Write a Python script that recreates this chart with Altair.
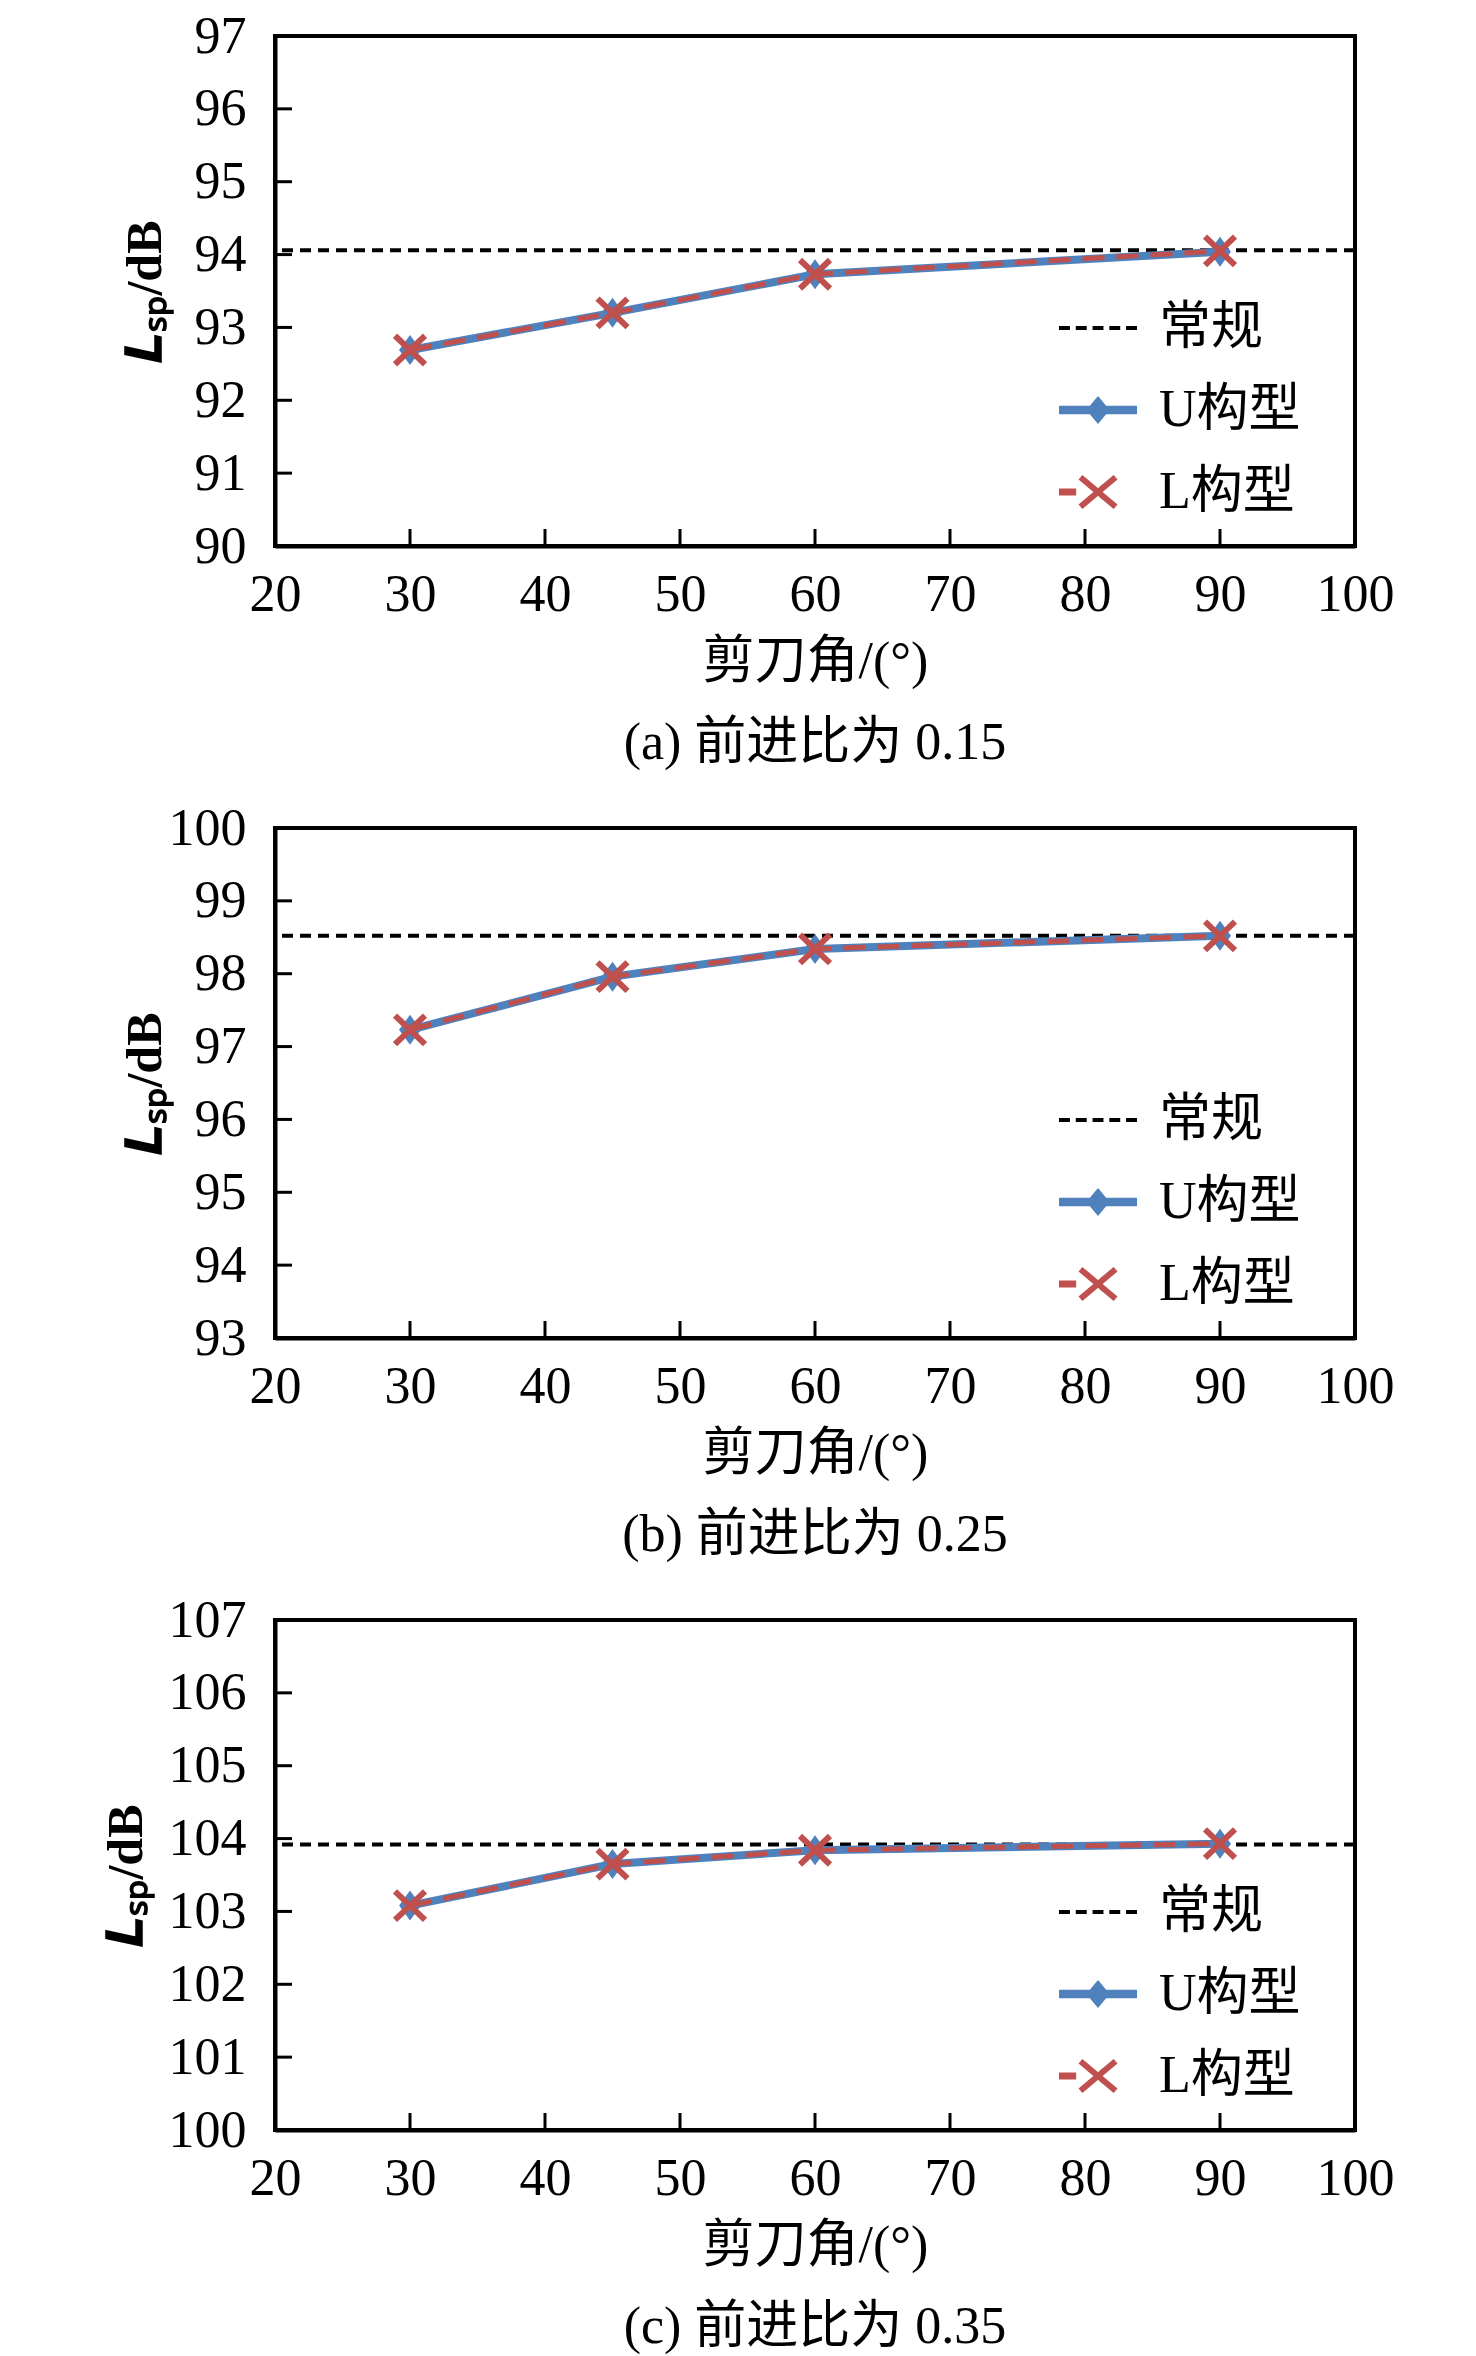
import altair as alt
import pandas as pd

# ---------------- data ----------------
angles = [30, 45, 60, 90]
captions = ["(a) 前进比为 0.15", "(b) 前进比为 0.25", "(c) 前进比为 0.35"]
u_vals = [
    [92.69, 93.20, 93.73, 94.04],
    [97.23, 97.96, 98.34, 98.52],
    [103.08, 103.65, 103.84, 103.93],
]
l_vals = [
    [92.69, 93.20, 93.73, 94.05],
    [97.23, 97.96, 98.34, 98.52],
    [103.08, 103.65, 103.84, 103.93],
]
ref_vals = [94.06, 98.52, 103.92]
y_domains = [[90, 97], [93, 100], [100, 107]]
y_ticks = [list(range(90, 98)), list(range(93, 101)), list(range(100, 108))]
x_ticks = [20, 30, 40, 50, 60, 70, 80, 90, 100]
legend_cats = ["常规", "U构型", "L构型"]

# ---------------- style ----------------
FONT = "Liberation Serif, Noto Sans CJK SC"
BLUE = "#4F81BD"
RED = "#C0504D"
W, H = 1080, 510
title_x = [-105, -105, -124]

X_PATH = "M-1,-0.95L1,0.95M-1,0.95L1,-0.95"
DIAMOND_PATH = "M0,-1L0.73,0L0,1L-0.73,0Z"

# legend symbol paths (filled shapes, unit box -1..1)
def dash_rects(segs, h):
    return "".join(f"M{a},{-h}H{b}V{h}H{a}Z" for a, b in segs)

LEG_REF = dash_rects([(-1, -0.72), (-0.57, -0.29), (-0.14, 0.14), (0.29, 0.57), (0.72, 1)], 0.05)
LEG_U = dash_rects([(-1, 1)], 0.11) + "M0,-0.36L0.3,0L0,0.36L-0.3,0Z"
LEG_L = (dash_rects([(-1, -0.56)], 0.09)
         + "M-0.4003,-0.4388L0.4997,0.3212L0.4003,0.4388L-0.4997,-0.3212Z"
         + "M-0.4997,0.3212L0.4003,-0.4388L0.4997,-0.3212L-0.4003,0.4388Z")


def panel(i):
    df = pd.DataFrame({"angle": angles, "U": u_vals[i], "L": l_vals[i]})
    ref_df = pd.DataFrame({"ref": [ref_vals[i]]})
    xt_df = pd.DataFrame({"v": x_ticks[1:-1]})
    yt_df = pd.DataFrame({"v": y_ticks[i][1:-1]})
    leg_df = pd.DataFrame({"cat": legend_cats, "xv": [None] * 3, "yv": [None] * 3})

    xscale = alt.Scale(domain=[20, 100], nice=False, zero=False)
    yscale = alt.Scale(domain=y_domains[i], nice=False, zero=False)
    xaxis = alt.Axis(values=x_ticks, ticks=False, grid=False, domainColor="black",
                     domainWidth=4, labelFontSize=52, labelPadding=23, labelColor="black",
                     labelFlush=False, labelOverlap=False, labelFont=FONT,
                     title="剪刀角/(°)", titleFontSize=52, titleFontWeight="normal",
                     titleColor="black", titlePadding=16, titleFont=FONT)
    yaxis = alt.Axis(values=y_ticks[i], ticks=False, grid=False, domainColor="black",
                     domainWidth=4, labelFontSize=52, labelPadding=29, labelColor="black",
                     labelFlush=False, labelOverlap=False, labelFont=FONT,
                     title="𝑳ₛₚ/dB", titleFontSize=50, titleFontWeight="bold",
                     titleColor="black", titleX=title_x[i], titleFont=FONT)

    def X(f):
        return alt.X(f, type="quantitative", scale=xscale, axis=xaxis)

    def Y(f):
        return alt.Y(f, type="quantitative", scale=yscale, axis=yaxis)

    ref = alt.Chart(ref_df).mark_rule(color="black", strokeWidth=4, strokeDash=[11, 7]).encode(
        y=Y("ref"))
    u_line = alt.Chart(df).mark_line(color=BLUE, strokeWidth=8).encode(x=X("angle"), y=Y("U"))
    u_pts = alt.Chart(df).mark_point(shape=DIAMOND_PATH, filled=True, color=BLUE, size=900,
                                     opacity=1).encode(x=X("angle"), y=Y("U"))
    l_line = alt.Chart(df).mark_line(color=RED, strokeWidth=5, strokeDash=[22, 12]).encode(
        x=X("angle"), y=Y("L"))
    l_pts = alt.Chart(df).mark_point(shape=X_PATH, filled=False, color=RED, size=900,
                                     strokeWidth=6, opacity=1).encode(x=X("angle"), y=Y("L"))
    xt = alt.Chart(xt_df).mark_tick(orient="vertical", size=17, thickness=3, color="black",
                                    yOffset=-8.5, opacity=1).encode(
        x=X("v"), y=alt.YDatum(y_domains[i][0], type="quantitative", scale=yscale, axis=yaxis))
    yt = alt.Chart(yt_df).mark_tick(orient="horizontal", size=17, thickness=3, color="black",
                                    xOffset=8.5, opacity=1).encode(
        y=Y("v"), x=alt.XDatum(20, type="quantitative", scale=xscale, axis=xaxis))

    leg_props = dict(title=None, orient="none", legendX=784, legendY=253, symbolSize=6084,
                     symbolStrokeWidth=0, labelFontSize=52, labelFont=FONT, labelColor="black",
                     labelOffset=22, rowPadding=17, padding=0, symbolOpacity=1, labelLimit=0)
    leg = alt.Chart(leg_df).mark_point(filled=True, opacity=1).encode(
        x=X("xv"), y=Y("yv"),
        fill=alt.Fill("cat:N", scale=alt.Scale(domain=legend_cats, range=["black", BLUE, RED]),
                      sort=legend_cats, legend=alt.Legend(**leg_props)),
        shape=alt.Shape("cat:N", scale=alt.Scale(domain=legend_cats, range=[LEG_REF, LEG_U, LEG_L]),
                        sort=legend_cats, legend=alt.Legend(**leg_props)),
    )

    return alt.layer(ref, u_line, u_pts, l_line, l_pts, xt, yt, leg).properties(
        width=W, height=H,
        title=alt.TitleParams(text=captions[i], orient="bottom", fontSize=52,
                              fontWeight="normal", color="black", font=FONT,
                              anchor="middle", offset=31),
    )


chart = alt.vconcat(panel(0), panel(1), panel(2), spacing=282, bounds="flush").resolve_scale(
    fill="independent", shape="independent"
).properties(
    padding={"top": 0, "left": 91, "right": 5, "bottom": 5}
).configure(font=FONT).configure_view(stroke="black", strokeWidth=4)

chart.save("out.html", embed_options={"renderer": "svg", "actions": False})
